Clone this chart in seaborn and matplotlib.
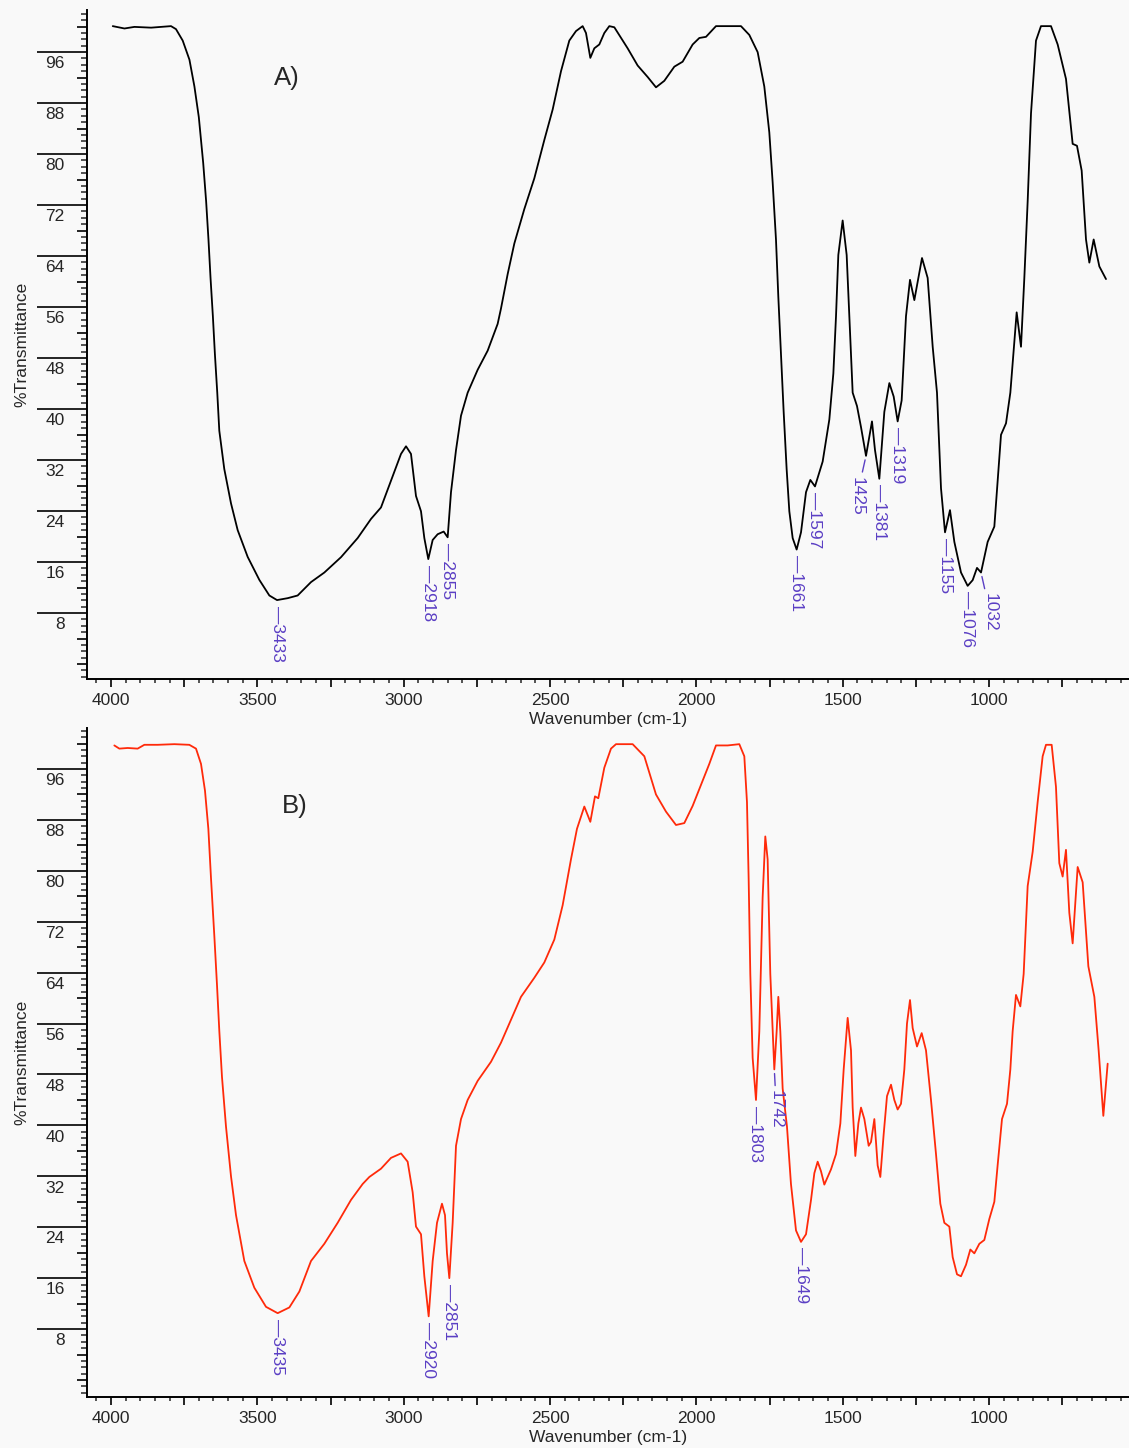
import numpy as np
import pandas as pd
import matplotlib
matplotlib.use("Agg")
import matplotlib.pyplot as plt
import matplotlib.transforms as mtransforms
from matplotlib.ticker import FixedLocator, FuncFormatter
import seaborn as sns

# ---------------- data ----------------
wn_A = [3994, 3954, 3920, 3863, 3795, 3778, 3755, 3732, 3715, 3700,
        3685, 3675, 3667, 3660, 3652, 3645, 3637, 3630, 3613, 3590,
        3567.2, 3533, 3493.2, 3459, 3432.8, 3396.4, 3362.3, 3316.7, 3271.2, 3214.2,
        3157.3, 3111.7, 3077.6, 3043.4, 3009.2, 2992.1, 2975.1, 2958, 2940.9, 2929.5,
        2916, 2901, 2884, 2863.4, 2849.8, 2838.4, 2821.3, 2804.2, 2781.5, 2747.3,
        2713.1, 2679,
        2667.6, 2644.8, 2622, 2587.9, 2553.7, 2519.6, 2491, 2462.6, 2434.2, 2411.4,
        2388.6, 2377.2, 2362.4, 2348.7, 2331.7, 2314.6, 2297.5, 2280.4, 2234.9, 2200.7,
        2166.5, 2138, 2109.6, 2075.4, 2047, 2012.8, 1990, 1967.2, 1933.1, 1847.7,
        1819.2, 1790.7, 1768, 1750.9, 1739.5, 1728.1, 1720.1, 1711, 1701.9, 1691.7,
        1682.5, 1671.1, 1657.5,
        1642.6, 1625.5, 1610.7, 1594.8, 1568.6, 1545.8, 1532.1, 1523.0, 1515.1, 1500.3,
        1486.6, 1477.5, 1466.1, 1451.3, 1437.6, 1420.5, 1400.1, 1389.8, 1375, 1357.9,
        1340.8, 1326.0, 1312.4, 1298.7, 1283.9, 1270.2, 1255.4, 1229.2, 1209.9, 1192.7,
        1178.0, 1164.3, 1150.6, 1133.6, 1118.7, 1096, 1073.2, 1056.1, 1041.3, 1027.6,
        1004.9, 982.1, 959.3, 942.2, 927.4, 905.8, 891.0, 879.6, 868.2, 856.8,
        839.8, 822.7, 788.5, 765.7, 737.3, 714.5, 699.7, 683.7, 668.9, 657.5,
        642.7, 623.3, 600.6]
tr_A = [100.07, 99.7, 99.95, 99.83, 100.07, 99.6, 97.8, 94.8, 90.6, 85.8,
        78.6, 72.6, 66.6, 60.6, 54.6, 48.6, 42.6, 36.6, 30.6, 25.2,
        21.0, 16.8, 13.2, 10.75, 10.03, 10.33, 10.75, 12.85, 14.35, 16.76,
        19.76, 22.76, 24.56, 28.76, 32.96, 34.16, 32.96, 26.36, 23.96, 19.76,
        16.46, 19.46, 20.36, 20.78, 19.88, 26.96, 33.56, 38.96, 42.56, 46.16,
        49.16, 53.36,
        55.77, 61.17, 65.97, 71.37, 76.2, 82.2, 87.0, 92.99, 97.8, 99.29,
        100.07, 98.99, 95.09, 96.59, 97.19, 98.99, 100.07, 99.89, 96.59, 93.89,
        92.09, 90.47, 91.49, 93.71, 94.49, 97.19, 98.21, 98.39, 100.07, 100.07,
        98.69, 95.99, 90.6, 83.4, 75.6, 66.6, 57.6, 48.6, 39.6, 30.6,
        23.96, 19.76, 17.96,
        20.66, 26.96, 28.88, 27.86, 31.76, 38.36, 45.57, 54.57, 64.17, 69.58,
        64.17, 54.57, 42.57, 40.47, 37.16, 32.66, 38.06, 33.56, 29.06, 39.56,
        44.07, 41.96, 38.06, 41.36, 54.57, 60.27, 57.09, 63.69, 60.57, 49.77,
        42.57, 27.56, 20.66, 24.14, 19.16, 14.36, 12.26, 13.16, 15.08, 14.36,
        19.16, 21.56, 35.96, 37.76, 42.57, 55.17, 49.77, 60.57, 72.58, 86.38,
        97.79, 100.07, 100.07, 97.19, 91.79, 81.6, 81.3, 77.4, 66.6, 62.97,
        66.6, 62.37, 60.39]

wn_B = [3988.6, 3971.5, 3943, 3908.9, 3886.1, 3840.5, 3783.6, 3732.4, 3709.6, 3692.5,
        3678.9, 3667.4, 3658.3, 3647, 3637.8, 3629.9, 3620.8, 3607.1, 3590, 3572.9,
        3544.5, 3510.3, 3470.5, 3430.6, 3390.7, 3356.5, 3316.7, 3271.2, 3225.6, 3180.0,
        3140.2, 3117.4, 3077.6, 3043.4, 3009.2, 2986.5, 2969.4, 2958, 2940.9, 2929.5,
        2914.7, 2901, 2886.2, 2869.2, 2858.9, 2852.1, 2844.1, 2832.7, 2821.3, 2804.2,
        2781.5, 2747.3, 2701.7,
        2667.6, 2639.1, 2599.3, 2553.7, 2519.6, 2485.4, 2456.9, 2428.5, 2408, 2382.9,
        2362.4, 2346.5, 2335.1, 2314.6, 2291.8, 2274.7, 2217.8, 2177.9, 2138.1, 2103.9,
        2069.7, 2041.3, 2012.8, 1984.3, 1955.9, 1933.1, 1893.2, 1853.4, 1836.3, 1827.2,
        1821.5, 1815.8, 1807.8, 1796.4, 1785.0, 1773.7, 1764.6, 1756.6, 1747.5, 1733.8,
        1725.8, 1720.1, 1713.3, 1705.3, 1690.5, 1676.9, 1659.7,
        1642.6, 1625.5, 1608.4, 1597.0, 1585.7, 1574.3, 1562.9, 1540.1, 1523.0, 1508.2,
        1496.8, 1483.2, 1471.8, 1466.1, 1457, 1446.7, 1437.6, 1426.2, 1411.4, 1403.4,
        1392, 1380.7, 1371.6, 1360.2, 1348.8, 1335.1, 1323.8, 1312.4, 1301, 1289.6,
        1280.5, 1270.2, 1261.1, 1246.3, 1230.3, 1215.6, 1198.5, 1181.4, 1166.6, 1152.9,
        1135.8, 1124.4, 1109.6, 1096, 1078.9, 1064.1, 1050.4, 1033.3, 1016.3, 999.2,
        982.1, 970.7, 955.9, 938.8, 927.4, 919.5, 908.1, 893.3, 881.9, 868.2,
        851.1, 834.1, 817.0, 805.6, 786.2, 771.5, 760.1, 748.7, 737.3, 725.9,
        714.5, 697.4, 680.3, 660.9, 640.4, 625.7, 609.7, 594.9]
tr_B = [99.7, 99.2, 99.3, 99.2, 99.8, 99.8, 99.9, 99.8, 99.2, 96.8,
        92.6, 86.6, 78.8, 69.8, 62.0, 54.8, 47.6, 39.8, 32.0, 25.9,
        18.7, 14.5, 11.5, 10.5, 11.4, 13.9, 18.7, 21.4, 24.7, 28.3,
        30.8, 31.9, 33.2, 34.9, 35.6, 34.3, 29.5, 24.1, 22.9, 16.3,
        10.0, 18.7, 24.7, 27.7, 25.9, 19.9, 16.0, 24.7, 36.8, 41.0,
        44.0, 47.0, 50.0,
        53.0, 56.0, 60.2, 63.2, 65.6, 69.2, 74.6, 81.8, 86.6, 90.1,
        87.7, 91.7, 91.4, 96.2, 99.2, 99.9, 99.9, 98.0, 92.0, 89.3,
        87.2, 87.5, 90.2, 93.5, 96.8, 99.7, 99.7, 99.9, 98.0, 90.8,
        78.8, 63.8, 50.6, 44.0, 54.8, 75.8, 85.4, 81.8, 63.8, 48.8,
        54.8, 60.2, 54.8, 45.8, 39.8, 30.8, 23.5,
        21.7, 22.9, 28.3, 32.5, 34.3, 32.8, 30.7, 33.1, 35.5, 40.3,
        48.8, 56.9, 51.8, 42.8, 35.2, 40.3, 42.8, 41.0, 36.8, 37.4,
        41.0, 33.7, 31.9, 38.6, 44.6, 46.4, 44.0, 42.5, 43.4, 48.8,
        56.0, 59.7, 55.3, 52.4, 54.5, 51.8, 44.0, 35.5, 27.7, 24.7,
        24.1, 19.3, 16.6, 16.3, 18.1, 20.5, 19.9, 21.4, 22.0, 25.3,
        28.0, 33.8, 41.0, 43.4, 48.8, 54.8, 60.5, 58.7, 63.8, 77.6,
        83.0, 90.8, 98.0, 99.8, 99.8, 93.2, 81.2, 79.1, 83.3, 73.4,
        68.6, 80.6, 78.2, 65.0, 60.2, 51.8, 41.5, 49.7]

peaks_A = [3433, 2918, 2855, 1661, 1597, 1425, 1381, 1319, 1155, 1076, 1032]
bent_A = {1425: -6.5, 1032: 6.5}
peaks_B = [3435, 2920, 2851, 1803, 1742, 1649]
bent_B = {1742: 1.5}

x_major = list(range(750, 4001, 250))
x_minor = list(range(550, 4081, 50))
y_major = list(range(0, 101, 4))
y_minor = list(range(-2, 103, 1))

# ---------------- style ----------------
sns.set_style("ticks")
plt.rcParams['font.family'] = ['Liberation Sans', 'DejaVu Sans']
BG = '#f9f9f9'
PURPLE = '#5b3fc4'

W, H = 1129, 1448
fig = plt.figure(figsize=(W / 100, H / 100), dpi=100, facecolor=BG)

def px_axes(left, top, right, bottom):
    return fig.add_axes([left / W, 1 - bottom / H, (right - left) / W, (bottom - top) / H])

ax_a = px_axes(87, 10, 1129, 679)
ax_b = px_axes(87, 728, 1129, 1397)


def style(ax, ylim):
    ax.set_facecolor(BG)
    ax.set_xlim(4082, 522)
    ax.set_ylim(*ylim)
    for s in ['top', 'right']:
        ax.spines[s].set_visible(False)
    for s in ['left', 'bottom']:
        ax.spines[s].set_linewidth(1.4)
        ax.spines[s].set_color('black')
    ax.xaxis.set_major_locator(FixedLocator(x_major))
    ax.xaxis.set_minor_locator(FixedLocator(x_minor))
    ax.xaxis.set_major_formatter(FuncFormatter(
        lambda v, p: f"{int(round(v))}" if int(round(v)) % 500 == 0 else ""))
    ax.yaxis.set_major_locator(FixedLocator(y_major))
    ax.yaxis.set_minor_locator(FixedLocator(y_minor))
    ax.yaxis.set_major_formatter(FuncFormatter(
        lambda v, p: f"{int(round(v))}" if (int(round(v)) % 8 == 0 and 8 <= v <= 96) else ""))
    ax.tick_params(axis='x', which='major', direction='out', length=6, width=1.2,
                   pad=4, labelsize=12.5, color='black')
    ax.tick_params(axis='x', which='minor', direction='out', length=3, width=1.1)
    ax.tick_params(axis='y', which='major', direction='out', length=36, width=1.2,
                   pad=-20, labelsize=12.5, color='black')
    ax.tick_params(axis='y', which='minor', direction='out', length=4, width=1.1)
    ax.set_xlabel("Wavenumber (cm-1)", fontsize=12.5, labelpad=3)
    ax.set_ylabel("%Transmittance", fontsize=12.5)
    ax.yaxis.set_label_coords(-(87 - 29) / 1042, 0.5)
    # long ruled ticks only at labelled values; shorter at the others
    locs = ax.yaxis.get_majorticklocs()
    ticks = ax.yaxis.get_major_ticks(len(locs))
    shift = mtransforms.ScaledTranslation(0, -3 / 72, fig.dpi_scale_trans)
    for tick, loc in zip(ticks, locs):
        if not (int(round(loc)) % 8 == 0 and 8 <= loc <= 96):
            tick.tick1line.set_markersize(7)
        tick.label1.set_va('top')
        tick.label1.set_transform(tick.label1.get_transform() + shift)


def annotate(ax, wn, tr, peaks, bent):
    wn = np.asarray(wn, float)
    tr = np.asarray(tr, float)
    for p in peaks:
        mask = np.abs(wn - p) <= 15
        i = int(np.argmin(np.where(mask, tr, np.inf)))
        x0, y0 = wn[i], tr[i]
        if p in bent:
            ax.annotate(str(p), xy=(x0, y0), xytext=(bent[p], -15),
                        textcoords='offset points', rotation=270,
                        ha='center', va='top', fontsize=12.5, color=PURPLE,
                        arrowprops=dict(arrowstyle='-', color=PURPLE, lw=1.0,
                                        shrinkA=1, shrinkB=3))
        else:
            ax.annotate('\u2014' + str(p), xy=(x0, y0), xytext=(0, -4),
                        textcoords='offset points', rotation=270,
                        ha='center', va='top', fontsize=12.5, color=PURPLE)


df_a = pd.DataFrame({'wavenumber': wn_A, 'transmittance': tr_A})
df_b = pd.DataFrame({'wavenumber': wn_B, 'transmittance': tr_B})

sns.lineplot(data=df_a, x='wavenumber', y='transmittance', ax=ax_a, color='black',
             lw=1.3, sort=False, estimator=None)
sns.lineplot(data=df_b, x='wavenumber', y='transmittance', ax=ax_b, color='#ff2a0a',
             lw=1.3, sort=False, estimator=None)

style(ax_a, (-2.35, 102.6))
style(ax_b, (-2.67, 102.44))

annotate(ax_a, wn_A, tr_A, peaks_A, bent_A)
annotate(ax_b, wn_B, tr_B, peaks_B, bent_B)

ax_a.text((287 - 87) / 1042, 1 - (78 - 10) / 669, "A)", transform=ax_a.transAxes,
          fontsize=18.5, ha='center', va='center')
ax_b.text((295 - 87) / 1042, 1 - (806 - 728) / 669, "B)", transform=ax_b.transAxes,
          fontsize=18.5, ha='center', va='center')

fig.savefig("out.png", dpi=100, facecolor=BG)
